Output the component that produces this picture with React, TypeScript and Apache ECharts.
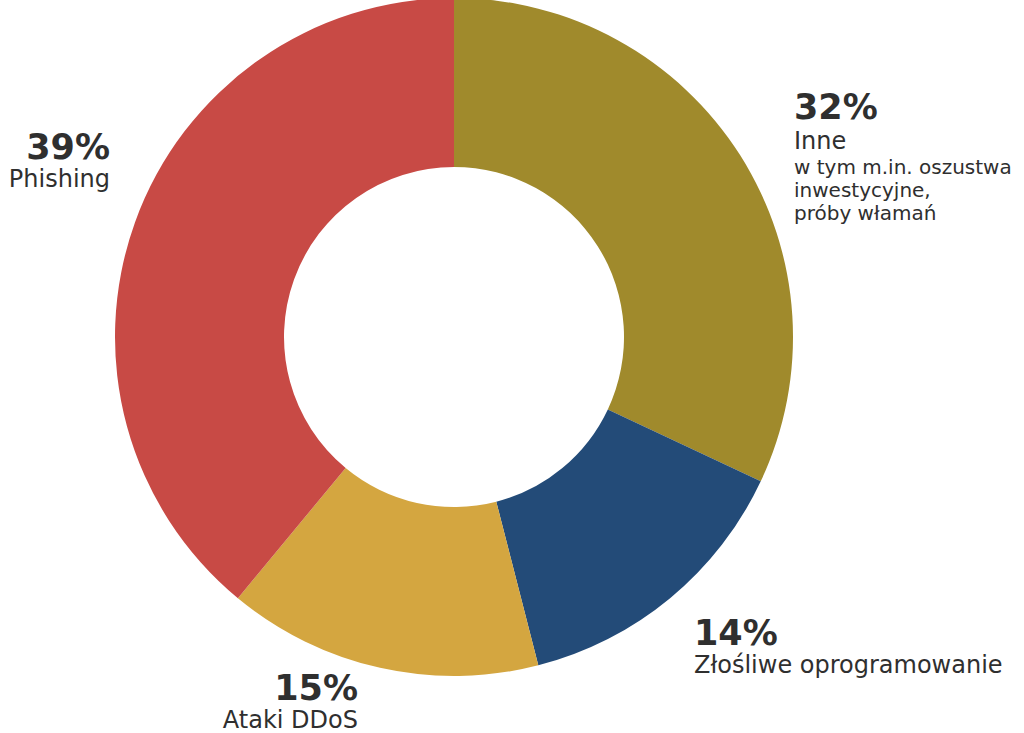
import React, { useEffect, useRef } from "react";
import * as echarts from "echarts";

const categories = ["Inne", "Złośliwe oprogramowanie", "Ataki DDoS", "Phishing"];
const values = [32, 14, 15, 39];
const subLabels = ["w tym m.in. oszustwa\ninwestycyjne,\npróby włamań", "", "", ""];
const colors = ["#A08A2C", "#234B78", "#D4A640", "#C84A45"];
const labelAnchors = [
  { x: 794, y: 87, align: "left" },
  { x: 694, y: 613, align: "left" },
  { x: 358, y: 668, align: "right" },
  { x: 110, y: 127, align: "right" },
];

const FONT = "DejaVu Sans";

export default function App() {
  const ref = useRef<HTMLDivElement>(null);
  useEffect(() => {
    if (!ref.current) return;
    const chart = echarts.init(ref.current, null, { renderer: "svg" });
    chart.setOption({
      animation: false,
      backgroundColor: "#ffffff",
      series: [
        {
          type: "pie",
          center: [454, 337],
          radius: [170, 339],
          startAngle: 90,
          clockwise: true,
          silent: true,
          labelLine: { show: false },
          label: {
            show: true,
            overflow: "none",
            color: "#2f2f2f",
            fontFamily: FONT,
            formatter: (p: any) => {
              const sub = subLabels[p.dataIndex];
              const nk = sub ? "n" : "m";
              let s = `{p|${p.value}%}\n{${nk}|${p.name}}`;
              if (sub) s += "\n" + sub.split("\n").map((l) => `{s|${l}}`).join("\n");
              return s;
            },
            rich: {
              p: { fontSize: 35, fontWeight: "bold", lineHeight: 40, fontFamily: FONT, color: "#2f2f2f" },
              n: { fontSize: 24, lineHeight: 28, fontFamily: FONT, color: "#2f2f2f" },
              m: { fontSize: 24, lineHeight: 23, fontFamily: FONT, color: "#2f2f2f" },
              s: { fontSize: 20, lineHeight: 23, fontFamily: FONT, color: "#2f2f2f" },
            },
          },
          labelLayout: (params: any) => {
            const a = labelAnchors[params.dataIndex];
            return { x: a.x, y: a.y, align: a.align, verticalAlign: "top" };
          },
          data: categories.map((name, i) => ({
            name,
            value: values[i],
            itemStyle: { color: colors[i] },
          })),
        },
      ],
    });
    return () => chart.dispose();
  }, []);
  return (
    <div
      ref={ref}
      style={{ position: "fixed", left: 0, top: 0, width: 1024, height: 733 }}
    />
  );
}
